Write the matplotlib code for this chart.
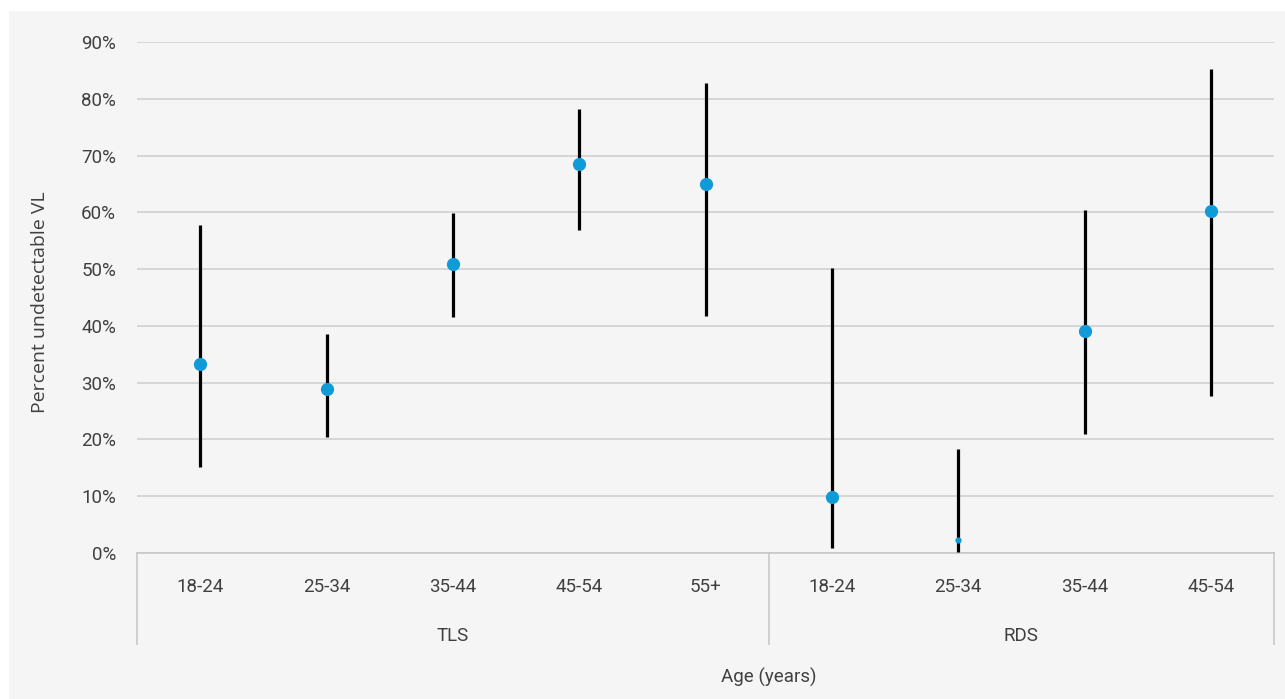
import matplotlib
matplotlib.use("Agg")
import matplotlib.pyplot as plt
import matplotlib.transforms as mtransforms
from matplotlib import font_manager
from matplotlib.patches import Rectangle

# ---- data ----
groups = ["TLS", "RDS"]
ages_tls = ["18-24", "25-34", "35-44", "45-54", "55+"]
ages_rds = ["18-24", "25-34", "35-44", "45-54"]
est_tls = [33.3, 28.9, 50.9, 68.5, 65.0]
low_tls = [15.1, 20.4, 41.5, 56.9, 41.7]
high_tls = [57.7, 38.6, 59.9, 78.2, 82.7]
est_rds = [9.9, 2.3, 39.1, 60.2]
low_rds = [0.9, 0.2, 21.0, 27.6]
high_rds = [50.2, 18.3, 60.4, 85.2]
y_ticks = [0, 10, 20, 30, 40, 50, 60, 70, 80, 90]

avail = {f.name for f in font_manager.fontManager.ttflist}
narrow = "Liberation Sans Narrow" if "Liberation Sans Narrow" in avail else "Roboto"
nsize = 13.5
tcol = "#404040"
tw = "normal"

W, H = 1285, 699
fig = plt.figure(figsize=(W / 100, H / 100), dpi=100)
fig.patch.set_facecolor("white")
bg = Rectangle((9 / W, 0), 1, 1 - 11 / H, transform=fig.transFigure,
               facecolor="#f5f5f5", edgecolor="none", zorder=-10)
fig.add_artist(bg)

ax = fig.add_axes([137 / W, 146 / H, (1274 - 137) / W, (553 - 42) / H], zorder=5)
ax.set_facecolor("none")

labels = ages_tls + ages_rds
est = est_tls + est_rds
low = low_tls + low_rds
high = high_tls + high_rds
xs = list(range(len(labels)))

ax.vlines(xs, [v / 100 for v in low], [v / 100 for v in high], color="black", lw=2.3, zorder=3)
sizes = [8.5] * len(xs)
sizes[len(ages_tls) + 1] = 3.5
for x, v, s in zip(xs, est, sizes):
    ax.plot([x], [v / 100], marker="o", ms=s, color="#0f9ad8", mec="#0f9ad8", zorder=4,
            ls="none")

ax.set_xlim(-0.5, len(xs) - 0.5)
ax.set_ylim(0, 0.9)
ax.set_yticks([t / 100 for t in y_ticks])
ax.set_yticklabels([f"{t}%" for t in y_ticks], family=narrow, fontsize=nsize,
                   color=tcol, fontweight=tw)
ax.tick_params(axis="y", length=0, pad=15)
ax.set_xticks([])
ax.grid(axis="y", color="#d0d0d0", lw=1.2)
ax.set_axisbelow(True)
for s in ["left", "right", "top"]:
    ax.spines[s].set_visible(False)
ax.spines["bottom"].set_color("#c8c8c8")
ax.spines["bottom"].set_linewidth(1.2)

trans = mtransforms.blended_transform_factory(ax.transData, ax.transAxes)
ah = 553 - 42
for x, lab in zip(xs, labels):
    ax.text(x, -(587 - 553) / ah, lab, transform=trans, ha="center", va="center",
            family=narrow, fontsize=nsize, color=tcol, fontweight=tw)
bounds = [-0.5, len(ages_tls) - 0.5, len(xs) - 0.5]
for b in bounds:
    ax.plot([b, b], [0, -(644 - 553) / ah], transform=trans, color="#c8c8c8", lw=1.2,
            clip_on=False)
centers = [(len(ages_tls) - 1) / 2, len(ages_tls) + (len(ages_rds) - 1) / 2]
for c, g in zip(centers, groups):
    ax.text(c, -(636 - 553) / ah, g, transform=trans, ha="center", va="center",
            family=narrow, fontsize=nsize, color=tcol, fontweight=tw)

fig.text(769 / W, 1 - 677 / H, "Age (years)", ha="center", va="center",
         family=narrow, fontsize=nsize, color=tcol, fontweight=tw)
fig.text(40 / W, 1 - 302 / H, "Percent undetectable VL", rotation=90, ha="center",
         va="center", family="Open Sans", fontsize=14, color="#404040")

fig.savefig("out.png", dpi=100, facecolor=fig.get_facecolor())
